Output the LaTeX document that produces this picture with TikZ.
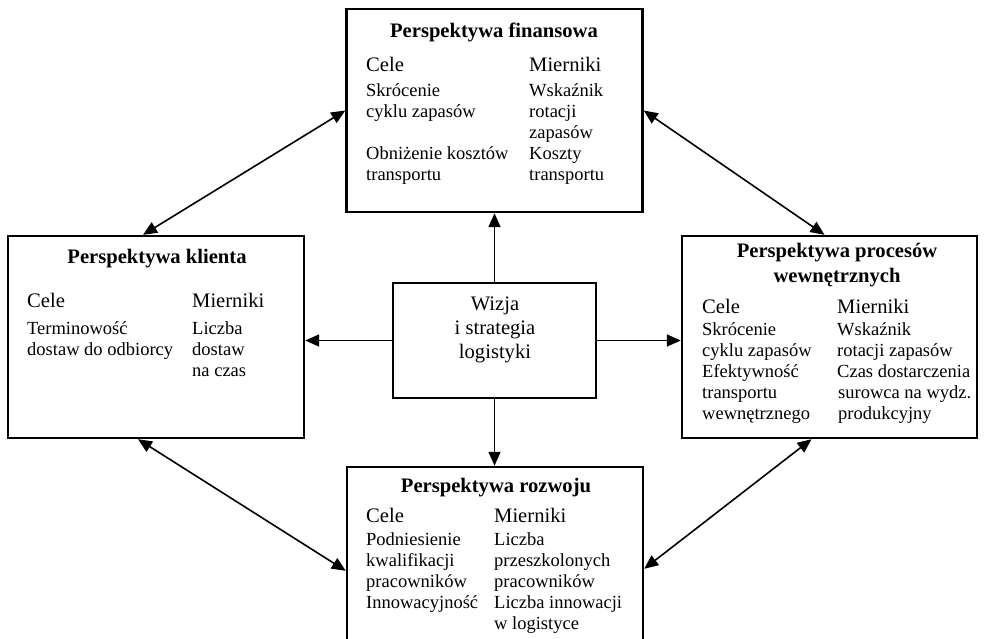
\documentclass[tikz,border=0pt]{standalone}
\usepackage{fontspec}
\setmainfont{Liberation Serif}
\usetikzlibrary{arrows.meta}
\newcommand{\kol}[1]{\begin{tabular}[t]{@{}l@{}}#1\end{tabular}}
\newcommand{\kolc}[1]{\begin{tabular}[t]{@{}c@{}}#1\end{tabular}}

\begin{document}
\begin{tikzpicture}[x=1pt, y=-1pt, line width=2.4pt,
  box/.style={draw, inner sep=0pt},
  tit/.style={font=\fontsize{20.6}{25}\selectfont\bfseries, inner sep=0pt, anchor=base},
  hd/.style={font=\fontsize{20.6}{24}\selectfont, inner sep=0pt, anchor=base west},
  txt/.style={font=\fontsize{18.5}{21}\selectfont, inner sep=0pt, anchor=base west},
  arr/.style={line width=1.6pt, -{Triangle[length=14pt, width=12pt]}},
  arrs/.style={line width=1.6pt, {Triangle[length=14pt, width=12pt]}-{Triangle[length=14pt, width=12pt]}}]
  \useasboundingbox (0,0) rectangle (984,639);
  \node[box, minimum width=296pt, minimum height=203pt] (fin) at (494.5,110.5) {};
  \node[box, minimum width=296pt, minimum height=202pt] (kli) at (156,337) {};
  \node[box, minimum width=295pt, minimum height=202pt] (pro) at (829.5,337) {};
  \node[box, minimum width=296pt, minimum height=183pt] (roz) at (495,558.5) {};
  \node[box, minimum width=203pt, minimum height=115pt] (viz) at (494.5,340.5) {};
  \node[tit] (fin-t) at (494,38) {Perspektywa finansowa};
  \node[hd] (fin-c) at (365,72) {Cele};
  \node[hd] (fin-m) at (528,72) {Mierniki};
  \node[txt] (fin-cl) at (365,97) {\kol{Skrócenie\\cyklu zapasów\\ \\Obniżenie kosztów\\transportu}};
  \node[txt] (fin-ml) at (528,97) {\kol{Wskaźnik\\rotacji\\zapasów\\Koszty\\transportu}};
  \node[tit] (kli-t) at (157,263) {Perspektywa klienta};
  \node[hd] (kli-c) at (26,307) {Cele};
  \node[hd] (kli-m) at (191,307) {Mierniki};
  \node[txt] (kli-cl) at (26,334) {\kol{Terminowość\\dostaw do odbiorcy}};
  \node[txt] (kli-ml) at (191,334) {\kol{Liczba\\dostaw\\na czas}};
  \node[tit] (pro-t) at (837,257) {\kolc{Perspektywa procesów\\wewnętrznych}};
  \node[hd] (pro-c) at (701,313) {Cele};
  \node[hd] (pro-m) at (836,313) {Mierniki};
  \node[txt] (pro-cl) at (701,335) {\kol{Skrócenie\\cyklu zapasów\\Efektywność\\transportu\\wewnętrznego}};
  \node[txt] (pro-ml) at (836,335) {\kol{Wskaźnik\\rotacji zapasów\\Czas dostarczenia\\\hspace{1pt}surowca na wydz.\\\hspace{1pt}produkcyjny}};
  \node[tit] (roz-t) at (496,492) {Perspektywa rozwoju};
  \node[hd] (roz-c) at (365,522) {Cele};
  \node[hd] (roz-m) at (493,522) {Mierniki};
  \node[txt] (roz-cl) at (365,545) {\kol{Podniesienie\\kwalifikacji\\pracowników\\Innowacyjność}};
  \node[txt] (roz-ml) at (493,545) {\kol{Liczba\\przeszkolonych\\pracowników\\Liczba innowacji\\w logistyce}};
  \node[font=\fontsize{20.6}{24}\selectfont, inner sep=0pt, anchor=base] (viz-t) at (495,310) {\kolc{Wizja\\i strategia\\logistyki}};
  \draw[arr] (viz.north) -- (viz.north |- fin.south);
  \draw[arr] (viz.south) -- (viz.south |- roz.north);
  \draw[arr] (viz.west) -- (viz.west -| kli.east);
  \draw[arr] (viz.east) -- (viz.east -| pro.west);
  \draw[arrs] (fin.west) -- ([xshift=-13pt]kli.north);
  \draw[arrs] (fin.east) -- ([xshift=-5pt]pro.north);
  \draw[arrs] ([xshift=-18pt]kli.south) -- ([yshift=-105pt]roz.north west);
  \draw[arrs] ([xshift=-18pt]pro.south) -- ([yshift=-103pt]roz.north east);
\end{tikzpicture}
\end{document}
